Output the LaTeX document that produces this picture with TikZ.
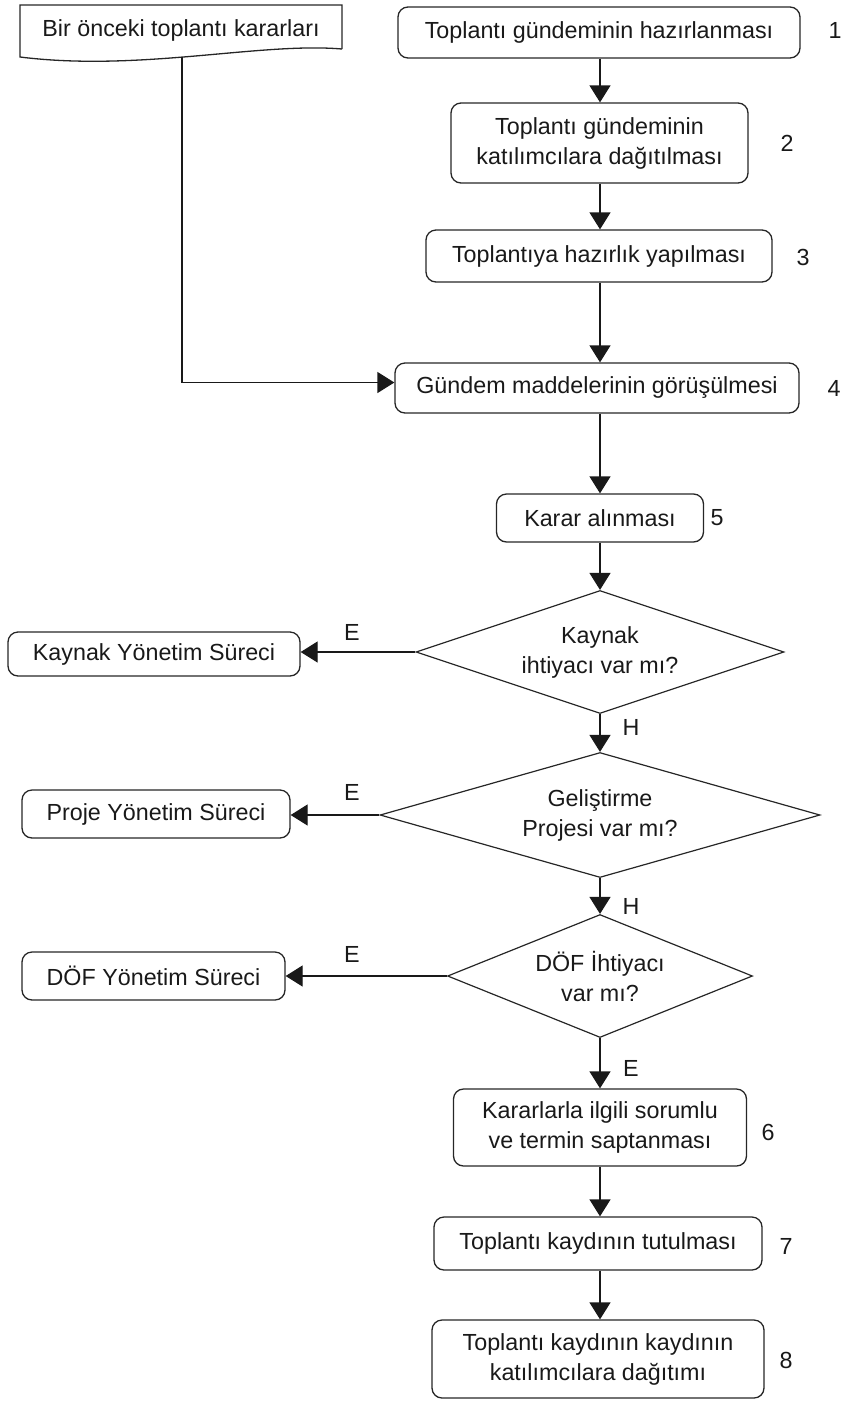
\documentclass[tikz,border=0pt]{standalone}
\usepackage{fontspec}
\setmainfont{Liberation Sans}
\usetikzlibrary{arrows.meta,shapes.geometric}

\begin{document}
\begin{tikzpicture}[x=1pt,y=-1pt,
  every node/.style={font=\fontsize{23.3}{30}\selectfont, text=black!90},
  proc/.style={draw=black!85, line width=1.3pt, rounded corners=10pt,
    align=center, inner sep=0pt},
  decision/.style={draw=black!85, line width=1.2pt, shape=diamond,
    align=center, inner sep=0pt},
  flow/.style={draw=black!90, line width=1.3pt,
    -{Triangle[length=17pt,width=21pt]}},
  num/.style={anchor=center},
  tag/.style={anchor=center}]

\useasboundingbox (0,0) rectangle (849,1401);

% input document with wavy lower edge
\node (prev) at (181,30) {Bir önceki toplantı kararları};
\draw[black!85, line width=1.3pt]
  (342,49) -- (342,5) -- (20,5) -- (20,57)
  .. controls (140,72) and (260,42) .. (342,49);
\coordinate (prevout) at (182,57);

% main sequence
\node[proc, minimum width=402, minimum height=51] (s1) at (599,32.5)
  {Toplantı gündeminin hazırlanması};
\node[num] (n1) at (835,30) {1};

\node[proc, minimum width=297, minimum height=80] (s2) at (599.5,143)
  {Toplantı gündeminin\\katılımcılara dağıtılması};
\node[num] (n2) at (787,143) {2};

\node[proc, minimum width=346, minimum height=52] (s3) at (599,256)
  {Toplantıya hazırlık yapılması};
\node[num] (n3) at (803,257) {3};

\node[proc, minimum width=404, minimum height=50] (s4) at (597,388)
  {Gündem maddelerinin görüşülmesi};
\node[num] (n4) at (834,388) {4};

\node[proc, minimum width=207, minimum height=48] (s5) at (600,518)
  {Karar alınması};
\node[num] (n5) at (717,518) {5};

% decisions
\node[decision, minimum width=368, minimum height=123, aspect=2.99] (d1)
  at (600,652) {Kaynak\\ihtiyacı var mı?};
\node[decision, minimum width=440, minimum height=125, aspect=3.52] (d2)
  at (600,815) {Geliştirme\\Projesi var mı?};
\node[decision, minimum width=305, minimum height=123, aspect=2.48] (d3)
  at (600,976) {DÖF İhtiyacı\\var mı?};

% side processes
\node[proc, minimum width=292, minimum height=44] (kay) at (154,654)
  {Kaynak Yönetim Süreci};
\node[proc, minimum width=268, minimum height=48] (pro) at (156,814)
  {Proje Yönetim Süreci};
\node[proc, minimum width=263, minimum height=48] (dof) at (153.5,976)
  {DÖF Yönetim Süreci};

\node[proc, minimum width=293, minimum height=77] (s6) at (600,1127.5)
  {Kararlarla ilgili sorumlu\\ve termin saptanması};
\node[num] (n6) at (768,1132) {6};

\node[proc, minimum width=328, minimum height=53] (s7) at (598,1243.5)
  {Toplantı kaydının tutulması};
\node[num] (n7) at (786,1246) {7};

\node[proc, minimum width=332, minimum height=78] (s8) at (598,1359)
  {Toplantı kaydının kaydının\\katılımcılara dağıtımı};
\node[num] (n8) at (786,1360) {8};

% branch labels
\node[tag] (e1) at (352,632) {E};
\node[tag] (e2) at (352,792) {E};
\node[tag] (e3) at (352,954) {E};
\node[tag] (h1) at (631,727) {H};
\node[tag] (h2) at (631,906) {H};
\node[tag] (e4) at (631,1068) {E};

% connectors along the main column
\coordinate (col) at (600,0);
\draw[flow] (s1.south -| col) -- (s2.north -| col);
\draw[flow] (s2.south -| col) -- (s3.north -| col);
\draw[flow] (s3.south -| col) -- (s4.north -| col);
\draw[flow] (prevout) |- ([yshift=5.5pt]s4.west);
\draw[flow] (s4.south -| col) -- (s5.north -| col);
\draw[flow] (s5.south -| col) -- (d1.north);
\draw[flow] (d1.south) -- (d2.north);
\draw[flow] (d2.south) -- (d3.north);
\draw[flow] (d3.south) -- (s6.north -| col);
\draw[flow] (s6.south -| col) -- (s7.north -| col);
\draw[flow] (s7.south -| col) -- (s8.north -| col);

% side branches
\draw[flow] (d1.west) -- (d1.west -| kay.east);
\draw[flow] (d2.west) -- (d2.west -| pro.east);
\draw[flow] (d3.west) -- (d3.west -| dof.east);
\end{tikzpicture}
\end{document}
